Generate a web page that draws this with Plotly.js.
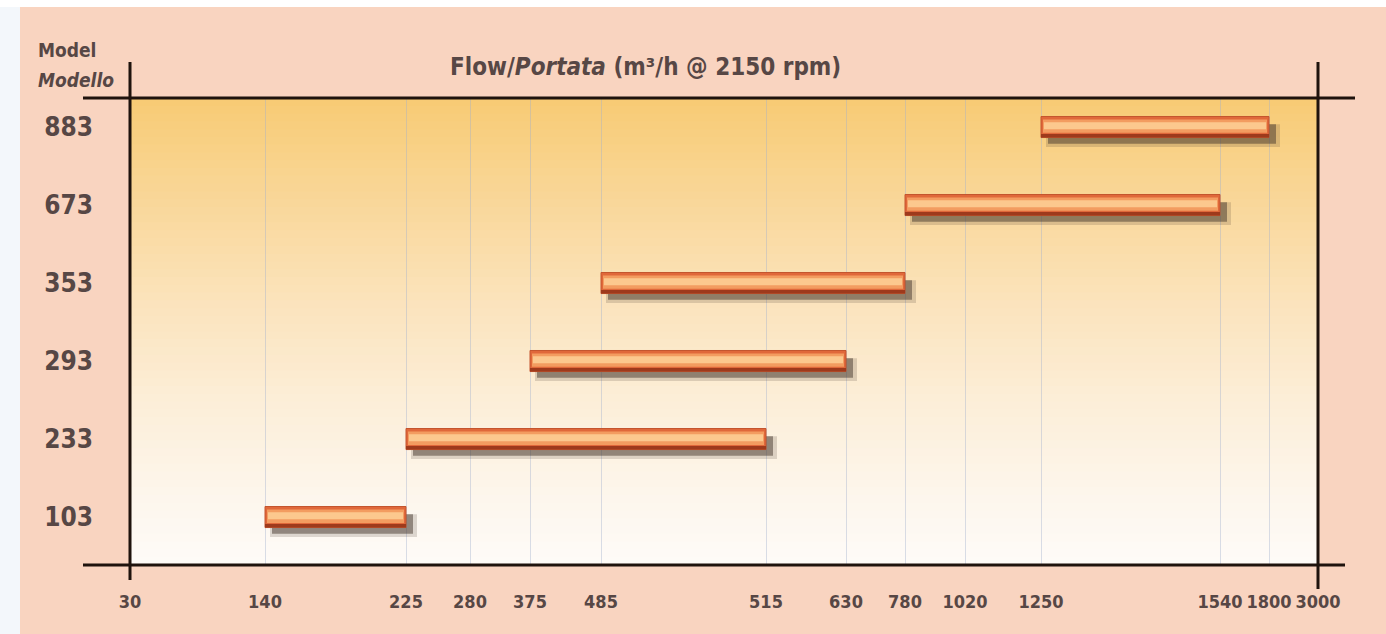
<!DOCTYPE html>
<html>
<head>
<meta charset="utf-8">
<script src="https://cdn.plot.ly/plotly-3.0.1.min.js"></script>
<style>html,body{margin:0;padding:0;background:#fff;}#chart{width:1386px;height:634px;}</style>
</head>
<body>
<div id="chart"></div>
<script>
// ---- data ----
const models   = ['103', '233', '293', '353', '673', '883'];
const flowMin  = [140, 225, 375, 485, 780, 1250];
const flowMax  = [225, 515, 630, 780, 1540, 1800];
const flowTicks = [30, 140, 225, 280, 375, 485, 515, 630, 780, 1020, 1250, 1540, 1800, 3000];
// axis scale: where each flow tick sits along the (non-linear) flow axis
const tickPos  = [0, 135, 276, 340, 400, 471, 636, 716, 775, 835, 911, 1090, 1139, 1188];

function pos(v) { return tickPos[flowTicks.indexOf(v)]; }
const yIdx = models.map((m, i) => i);
const base = flowMin.map(pos);
const len  = flowMax.map((v, i) => pos(v) - pos(flowMin[i]));

const FONT = '"Liberation Sans Narrow", "DejaVu Sans Condensed", "Roboto Condensed", sans-serif';
const TXT = '#574745';
const W = 0.27;

function barTrace(opts) {
  return Object.assign({
    type: 'bar', orientation: 'h', y: yIdx, x: len, base: base,
    hoverinfo: 'skip', showlegend: false
  }, opts);
}

const traces = [
  // soft shadow (below and to the right)
  barTrace({ base: base.map(b => b + 5), x: len.map(l => l + 6), width: W + 0.02, offset: -W / 2 - 0.12,
    marker: { color: 'rgba(70,55,45,0.18)', line: { width: 0 } } }),
  barTrace({ base: base.map(b => b + 7), width: W - 0.02, offset: -W / 2 - 0.08,
    marker: { color: 'rgba(70,55,45,0.5)', line: { width: 0 } } }),
  // main bar
  barTrace({ width: W, offset: -W / 2,
    marker: { color: '#e0683a', line: { color: '#c4552e', width: 1 } } }),
  barTrace({ base: base.map(b => b + 2), x: len.map(l => l - 4), width: 0.17, offset: -0.075,
    marker: { color: '#f39c60', line: { width: 0 } } }),
  barTrace({ base: base.map(b => b + 3), x: len.map(l => l - 6), width: 0.09, offset: -0.03,
    marker: { color: '#fcc88e', line: { width: 0 } } }),
  barTrace({ width: 0.045, offset: -W / 2,
    marker: { color: '#9e3a1c', line: { width: 0 } } })
];

// gradient background of the plot area
const stops = [
  [1.00, [248, 203, 116]],
  [0.80, [249, 214, 150]],
  [0.55, [251, 228, 190]],
  [0.35, [252, 238, 216]],
  [0.15, [253, 246, 236]],
  [0.00, [254, 251, 248]]
];
function colAt(t) {
  for (let i = 0; i < stops.length - 1; i++) {
    const a = stops[i], b = stops[i + 1];
    if (t <= a[0] && t >= b[0]) {
      const f = (t - b[0]) / (a[0] - b[0]);
      const c = a[1].map((v, k) => Math.round(b[1][k] + (v - b[1][k]) * f));
      return 'rgb(' + c.join(',') + ')';
    }
  }
  return 'rgb(254,251,248)';
}
const shapes = [];
// left decorative whitish area and top strip
shapes.push({ type: 'rect', xref: 'paper', yref: 'paper', x0: -130 / 1188, x1: -110 / 1188, y0: -1, y1: 2,
  fillcolor: '#f3f7fb', line: { width: 0 }, layer: 'below' });
shapes.push({ type: 'rect', xref: 'paper', yref: 'paper', x0: -0.2, x1: 1.2, y0: 1 + 91 / 467, y1: 1.3,
  fillcolor: '#ffffff', line: { width: 0 }, layer: 'below' });
const N = 60;
for (let i = 0; i < N; i++) {
  const y0 = i / N, y1 = (i + 1) / N + 0.002;
  shapes.push({ type: 'rect', xref: 'paper', yref: 'paper', x0: 0, x1: 1, y0: y0, y1: Math.min(y1, 1),
    fillcolor: colAt((y0 + y1) / 2), line: { width: 0 }, layer: 'below' });
}
const LC = '#1f130d';
shapes.push({ type: 'line', xref: 'paper', yref: 'paper', x0: -47 / 1188, x1: 1225 / 1188, y0: 1, y1: 1, line: { color: LC, width: 3 } });
shapes.push({ type: 'line', xref: 'paper', yref: 'paper', x0: -47 / 1188, x1: 1215 / 1188, y0: 0, y1: 0, line: { color: LC, width: 3 } });
shapes.push({ type: 'line', xref: 'paper', yref: 'paper', x0: 0, x1: 0, y0: -15 / 467, y1: 1 + 36 / 467, line: { color: LC, width: 3 } });
shapes.push({ type: 'line', xref: 'paper', yref: 'paper', x0: 1, x1: 1, y0: -24 / 467, y1: 1 + 36 / 467, line: { color: LC, width: 3 } });

const layout = {
  width: 1386, height: 634,
  margin: { l: 130, r: 68, t: 98, b: 69 },
  paper_bgcolor: '#f9d4c0',
  plot_bgcolor: 'rgba(0,0,0,0)',
  barmode: 'overlay',
  font: { family: FONT, color: TXT },
  xaxis: {
    range: [0, 1188], tickmode: 'array', tickvals: tickPos, ticktext: flowTicks.map(String),
    showgrid: true, gridcolor: 'rgba(160,175,205,0.4)', gridwidth: 1,
    zeroline: false, showline: false, ticks: '', ticklabelstandoff: 24,
    tickfont: { family: FONT, size: 18, color: TXT, weight: 'bold' }, fixedrange: true
  },
  yaxis: {
    range: [-0.615, 5.372], tickmode: 'array', tickvals: yIdx, ticktext: models,
    showgrid: false, zeroline: false, showline: false, ticks: '', ticklabelstandoff: 36,
    tickfont: { family: FONT, size: 26, color: TXT, weight: 'bold' }, fixedrange: true
  },
  shapes: shapes,
  annotations: [
    { xref: 'paper', yref: 'paper', x: (645 - 130) / 1188, y: 1 + 31 / 467, xanchor: 'center', yanchor: 'middle',
      text: '<b>Flow/<i>Portata</i> (m³/h @ 2150 rpm)</b>', showarrow: false,
      font: { family: FONT, size: 24, color: TXT } },
    { xref: 'paper', yref: 'paper', x: (36 - 130) / 1188, y: 1 + 48 / 467, xanchor: 'left', yanchor: 'middle',
      text: '<b>Model</b>', showarrow: false, align: 'left',
      font: { family: FONT, size: 19, color: TXT } },
    { xref: 'paper', yref: 'paper', x: (36 - 130) / 1188, y: 1 + 18 / 467, xanchor: 'left', yanchor: 'middle',
      text: '<b><i>Modello</i></b>', showarrow: false, align: 'left',
      font: { family: FONT, size: 19, color: TXT } }
  ]
};

Plotly.newPlot('chart', traces, layout, { displayModeBar: false, staticPlot: true });
</script>
</body>
</html>
